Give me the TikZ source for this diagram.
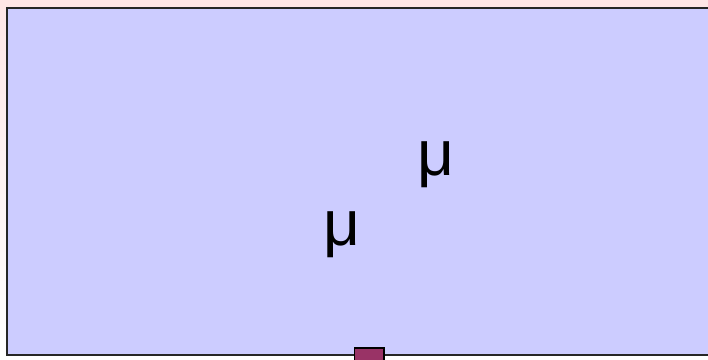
\documentclass[tikz,border=0pt]{standalone}
\usepackage{fontspec}
\setmainfont{Liberation Sans}
\definecolor{panelfill}{HTML}{CCCCFF}
\definecolor{portfill}{HTML}{993366}
\definecolor{bgpink}{HTML}{FFE6E6}
\tikzset{
  panel/.style={draw=black!85, line width=2pt, fill=panelfill},
  port/.style={draw=black, line width=1.6pt, fill=portfill},
  mulabel/.style={anchor=base, inner sep=0pt, font=\fontsize{64}{64}\selectfont}
}
\begin{document}
\begin{tikzpicture}[x=1pt,y=1pt]
  \useasboundingbox (0,0) rectangle (708,359);
  \clip (0,0) rectangle (708,359);
  \shade[top color=bgpink, bottom color=white] (0,0) rectangle (708,359);
  \draw[panel] (6.5,4) rectangle (716,350.5);
  \draw[port] (354.5,-3) rectangle (384,11);
  \node[mulabel] (mu1) at (436,184) {μ};
  \node[mulabel] (mu2) at (341.7,113.5) {μ};
\end{tikzpicture}
\end{document}
